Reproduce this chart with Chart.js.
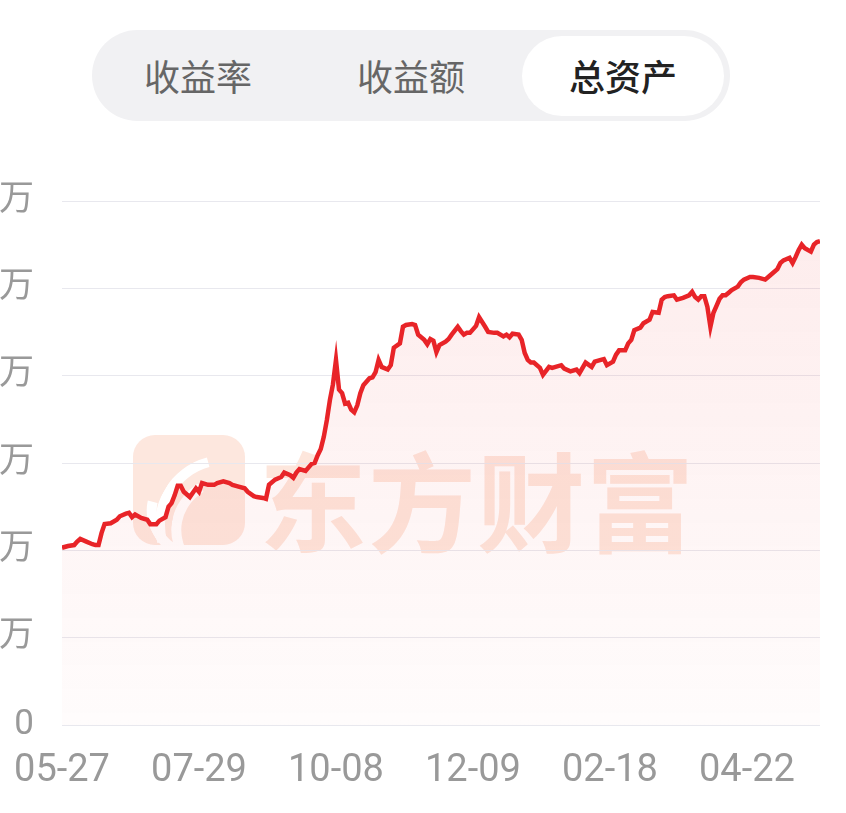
<!DOCTYPE html>
<html>
<head>
<meta charset="utf-8">
<script src="https://cdn.jsdelivr.net/npm/chart.js@4/dist/chart.umd.min.js"></script>
<style>
  html, body { margin: 0; padding: 0; background: #fff; }
  body { width: 846px; height: 813px; position: relative; overflow: hidden;
         font-family: Roboto, "Noto Sans CJK SC", sans-serif; }
  .onglets { position: absolute; left: 92px; top: 30px; width: 638px; height: 91px;
             border-radius: 46px; background: #f1f1f3; }
  .actif { position: absolute; left: 430px; top: 6px; width: 202px; height: 80px;
           border-radius: 40px; background: #fff; }
  .onglet { position: absolute; top: 0; height: 91px; line-height: 91px; width: 200px;
            text-align: center; font-size: 36px; color: #666;
            font-family: "Noto Sans CJK SC", sans-serif; }
  .onglet.sel { color: #222; font-weight: 500; }
  .filigrane { position: absolute; left: 133px; top: 435px; height: 112px; }
  .logo { position: absolute; left: 0; top: 0; width: 112px; height: 110px;
          border-radius: 22px; background: #fde7de; overflow: hidden; }
  .logo i { position: absolute; border: 10px solid #fff; border-color: #fff transparent transparent transparent;
            border-radius: 50%; }
  .marque { position: absolute; left: 126px; top: -16px; font-size: 108px; font-weight: 700;
            color: #fde6dc; white-space: nowrap; letter-spacing: 1px;
            font-family: "Noto Sans CJK SC", sans-serif; }
  #graphique { position: absolute; left: 0; top: 0; }
</style>
</head>
<body>
<div class="onglets">
  <div class="actif"></div>
  <div class="onglet" style="left:6px">收益率</div>
  <div class="onglet" style="left:219px">收益额</div>
  <div class="onglet sel" style="left:431px">总资产</div>
</div>
<div class="filigrane">
  <div class="logo">
    <i style="left:22px;top:20px;width:120px;height:120px;transform:rotate(-60deg)"></i>
    <i style="left:48px;top:28px;width:100px;height:120px;transform:rotate(-80deg)"></i>
    <i style="left:10px;top:40px;width:70px;height:60px;transform:rotate(-120deg)"></i>
  </div>
  <div class="marque">东方财富</div>
</div>
<canvas id="graphique" width="846" height="813"></canvas>
<script>
// jours de bourse depuis le 05-27 et total des actifs
const joursIndex = [
  0, 2, 4, 5, 6, 8, 10, 11, 12, 13, 14, 16, 17, 18, 19, 21, 22, 23, 24, 26,
  28, 29, 31, 32, 34, 35, 36, 37, 38, 39, 40, 42, 44, 45, 46, 48, 50, 51, 53, 55,
  56, 58, 60, 61, 63, 64, 66, 67, 68, 70, 72, 73, 75, 76, 77, 78, 80, 82, 83, 84,
  85, 86, 87, 88, 89, 90, 91, 92, 93, 94, 95, 96, 97, 98, 99, 101, 102, 103, 104, 105,
  107, 108, 109, 111, 112, 113, 115, 116, 117, 119, 120, 121, 122, 123, 124, 126, 127, 128, 130, 131,
  132, 133, 134, 136, 137, 139, 140, 142, 143, 145, 146, 147, 148, 150, 151, 152, 153, 154, 155, 157,
  158, 160, 161, 164, 165, 167, 169, 170, 172, 174, 175, 177, 178, 179, 181, 182, 183, 185, 186, 187,
  188, 190, 191, 193, 194, 196, 197, 198, 199, 201, 202, 204, 206, 207, 208, 209, 210, 211, 212, 213,
  214, 215, 216, 217, 218, 219, 220, 222, 223, 224, 226, 227, 229, 231, 232, 234, 235, 236, 237, 239,
  240, 241, 242, 243, 244, 246, 247, 248, 249
];
const actifTotal = [
  2.03, 2.05, 2.06, 2.10, 2.13, 2.10, 2.07, 2.06, 2.06, 2.20, 2.30, 2.31, 2.33, 2.35, 2.39, 2.42, 2.43, 2.38, 2.41, 2.37,
  2.35, 2.30, 2.30, 2.34, 2.38, 2.50, 2.54, 2.63, 2.74, 2.74, 2.67, 2.61, 2.71, 2.67, 2.77, 2.75, 2.75, 2.77, 2.79, 2.77,
  2.75, 2.73, 2.71, 2.67, 2.62, 2.61, 2.60, 2.59, 2.75, 2.81, 2.84, 2.89, 2.86, 2.83, 2.89, 2.93, 2.91, 2.99, 3.00, 3.09,
  3.16, 3.30, 3.49, 3.72, 3.90, 4.18, 3.84, 3.80, 3.68, 3.69, 3.61, 3.58, 3.66, 3.80, 3.89, 3.97, 3.98, 4.04, 4.18, 4.10,
  4.07, 4.12, 4.32, 4.37, 4.56, 4.58, 4.59, 4.58, 4.47, 4.41, 4.36, 4.42, 4.40, 4.27, 4.35, 4.39, 4.42, 4.47, 4.56, 4.51,
  4.47, 4.49, 4.49, 4.57, 4.67, 4.56, 4.50, 4.49, 4.49, 4.45, 4.47, 4.44, 4.48, 4.47, 4.41, 4.26, 4.18, 4.15, 4.15, 4.09,
  4.01, 4.10, 4.09, 4.12, 4.08, 4.05, 4.07, 4.03, 4.15, 4.10, 4.16, 4.18, 4.19, 4.12, 4.16, 4.24, 4.29, 4.29, 4.37, 4.41,
  4.52, 4.55, 4.60, 4.64, 4.73, 4.72, 4.87, 4.90, 4.91, 4.92, 4.87, 4.89, 4.92, 4.96, 4.90, 4.87, 4.91, 4.91, 4.79, 4.56,
  4.72, 4.80, 4.88, 4.92, 4.92, 4.95, 4.98, 5.02, 5.07, 5.10, 5.13, 5.13, 5.12, 5.10, 5.13, 5.19, 5.22, 5.29, 5.32, 5.35,
  5.29, 5.36, 5.44, 5.50, 5.46, 5.42, 5.50, 5.53, 5.54
];
const joursReperes = [0, 45, 90, 135, 180, 225];
const libellesDates = ['05-27', '07-29', '10-08', '12-09', '02-18', '04-22'];
const paliersY = [0, 1, 2, 3, 4, 5, 6];
const libellesY = ['0', '万', '万', '万', '万', '万', '万'];

const points = joursIndex.map((j, i) => ({ x: j, y: actifTotal[i] }));

function degradeRouge(context) {
    const zone = context.chart.chartArea;
    if (!zone) return 'rgba(240,40,40,0.06)';
    const g = context.chart.ctx.createLinearGradient(0, zone.top, 0, zone.bottom);
    g.addColorStop(0, 'rgba(238,60,60,0.10)');
    g.addColorStop(1, 'rgba(238,60,60,0.015)');
    return g;
}

new Chart(document.getElementById('graphique'), {
    type : 'line',
    data : {
        datasets : [{
            data            : points,
            borderColor     : '#e82428',
            borderWidth     : 4.5,
            pointRadius     : 0,
            tension         : 0,
            fill            : 'origin',
            backgroundColor : degradeRouge
        }]
    },
    options : {
        responsive : false,
        animation  : false,
        layout     : { padding : { top : 201, right : 26, left : 0, bottom : 0 } },
        plugins    : { legend : { display : false }, tooltip : { enabled : false } },
        scales : {
            x : {
                type : 'linear',
                min  : 0,
                max  : 249,
                afterBuildTicks : (axe) => { axe.ticks = joursReperes.map(v => ({ value : v })); },
                afterFit : (axe) => { axe.height = 88; axe.paddingLeft = 0; axe.paddingRight = 0; },
                grid   : { display : false, drawTicks : false },
                border : { display : false },
                ticks  : {
                    autoSkip : false,
                    maxRotation : 0,
                    padding : 24,
                    color : '#999',
                    font : { size : 38, family : 'Roboto, "Noto Sans CJK SC"' },
                    callback : (v) => libellesDates[joursReperes.indexOf(v)]
                }
            },
            y : {
                min : 0,
                max : 6,
                afterBuildTicks : (axe) => { axe.ticks = paliersY.map(v => ({ value : v })); },
                afterFit : (axe) => { axe.width = 62; },
                grid   : { color : '#e8e8ee', lineWidth : 1, drawTicks : false },
                border : { display : false },
                ticks  : {
                    padding : 28,
                    color : '#999',
                    font : { size : 35, family : 'Roboto, "Noto Sans CJK SC"' },
                    callback : (v) => libellesY[paliersY.indexOf(v)]
                }
            }
        }
    }
});
</script>
</body>
</html>
